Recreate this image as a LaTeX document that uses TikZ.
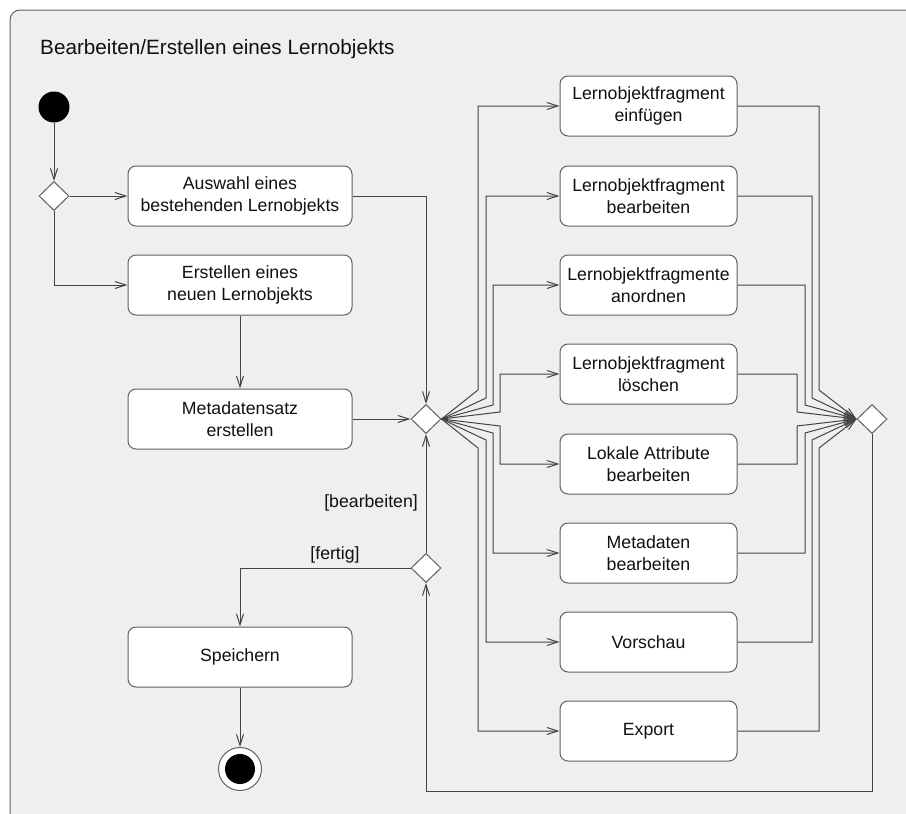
\documentclass[tikz,border=0pt]{standalone}
\usepackage{fontspec}
\setmainfont{Liberation Sans}
\usetikzlibrary{shapes.geometric,arrows.meta}
\definecolor{bgc}{HTML}{EFEFEF}
\definecolor{linec}{HTML}{444444}
\definecolor{boxc}{HTML}{606060}
\definecolor{txtc}{HTML}{111111}
\begin{document}
\begin{tikzpicture}[x=1pt,y=-1pt,
  act/.style={draw=boxc, fill=white, rounded corners=8pt, line width=1pt, text=txtc, align=center, font=\fontsize{17.7}{22}\selectfont, inner sep=0pt},
  leftact/.style={act, minimum width=224pt, minimum height=60pt},
  rightact/.style={act, minimum width=177pt, minimum height=60pt},
  dec/.style={diamond, draw=boxc, fill=white, line width=1pt, minimum width=30pt, minimum height=29pt, inner sep=0pt},
  arr/.style={draw=linec, line width=1pt, -{Straight Barb[length=11pt,width=7pt]}},
  guard/.style={text=txtc, font=\fontsize{17.7}{22}\selectfont, inner sep=0pt}
]
\useasboundingbox (0,0) rectangle (906,814);
\clip (0,0) rectangle (906,814);
\filldraw[fill=bgc, draw=boxc, line width=1pt, rounded corners=10pt] (10,840) -- (10,10) -- (940,10) -- (940,840) -- cycle;

\node[anchor=base west, text=txtc, font=\fontsize{20.7}{24}\selectfont, inner sep=0pt] (title) at (40,54) {Bearbeiten/Erstellen eines Lernobjekts};

% initial / final
\node[circle, fill=black, minimum size=31pt, inner sep=0pt] (start) at (54,107) {};
\node[circle, draw=boxc, fill=white, line width=1pt, minimum size=43pt, inner sep=0pt] (end) at (240,769) {};
\fill[black] (end.center) circle (15pt);

% decisions
\node[dec] (d1) at (54,196) {};
\node[dec] (d2) at (426,419) {};
\node[dec] (d3) at (426,568) {};
\node[dec] (d4) at (872,419) {};

% left actions
\node[leftact] (b1) at (240,196) {Auswahl eines\\bestehenden Lernobjekts};
\node[leftact] (b2) at (240,285) {Erstellen eines\\neuen Lernobjekts};
\node[leftact] (b3) at (240,419) {Metadatensatz\\erstellen};
\node[leftact] (sp) at (240,657) {Speichern};

% right actions
\node[rightact] (r1) at (648.5,106) {Lernobjektfragment\\einfügen};
\node[rightact] (r2) at (648.5,196) {Lernobjektfragment\\bearbeiten};
\node[rightact] (r3) at (648.5,285) {Lernobjektfragmente\\anordnen};
\node[rightact] (r4) at (648.5,374) {Lernobjektfragment\\löschen};
\node[rightact] (r5) at (648.5,464) {Lokale Attribute\\bearbeiten};
\node[rightact] (r6) at (648.5,553) {Metadaten\\bearbeiten};
\node[rightact] (r7) at (648.5,642) {Vorschau};
\node[rightact] (r8) at (648.5,731) {Export};

% guards
\node[guard, anchor=east] (gb) at (418,503) {[bearbeiten]};
\node[guard] (gf) at (335,555) {[fertig]};

% left flow
\draw[arr] (start) -- (d1);
\draw[arr] (d1.east) -- (b1.west);
\draw[arr] (d1.south) |- (b2.west);
\draw[arr] (b2) -- (b3);
\draw[arr] (b1.east) -| (d2.north);
\draw[arr] (b3.east) -- (d2.west);
\draw[arr] (d3.north) -- (d2.south);
\draw[arr] (d3.west) -| (sp.north);
\draw[arr] (sp) -- (end);

% fan out
\draw[arr] (d2.east) -- (478,390) |- (r1.west);
\draw[arr] (d2.east) -- (486,398) |- (r2.west);
\draw[arr] (d2.east) -- (493,405) |- (r3.west);
\draw[arr] (d2.east) -- (500,412) |- (r4.west);
\draw[arr] (d2.east) -- (500,426) |- (r5.west);
\draw[arr] (d2.east) -- (493,433) |- (r6.west);
\draw[arr] (d2.east) -- (486,440) |- (r7.west);
\draw[arr] (d2.east) -- (478,448) |- (r8.west);

% fan in
\draw[arr] (r1.east) -| (819,390) -- (d4.west);
\draw[arr] (r2.east) -| (812,398) -- (d4.west);
\draw[arr] (r3.east) -| (805,405) -- (d4.west);
\draw[arr] (r4.east) -| (797,412) -- (d4.west);
\draw[arr] (r5.east) -| (797,426) -- (d4.west);
\draw[arr] (r6.east) -| (805,433) -- (d4.west);
\draw[arr] (r7.east) -| (812,440) -- (d4.west);
\draw[arr] (r8.east) -| (819,448) -- (d4.west);

% loop back
\draw[arr] (d4.south) -- (872,791) -| (d3.south);
\end{tikzpicture}
\end{document}
